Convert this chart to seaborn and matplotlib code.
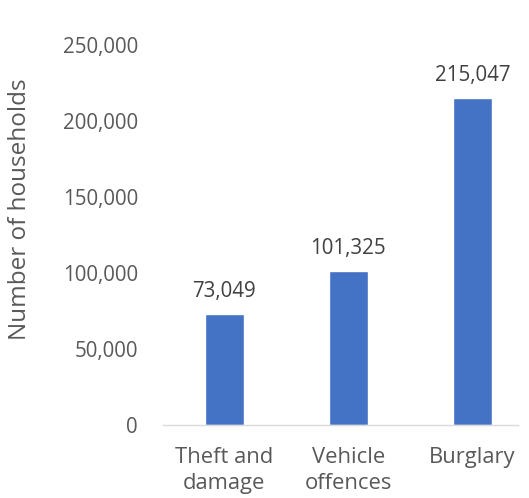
import matplotlib
matplotlib.use("Agg")
import matplotlib.pyplot as plt
import seaborn as sns
import pandas as pd
from matplotlib.ticker import FuncFormatter

# --- Data ---
categories = ["Theft and\ndamage", "Vehicle\noffences", "Burglary"]
households = [73049, 101325, 215047]

df = pd.DataFrame({"Category": categories, "Households": households})

sns.set_theme(style="white")
plt.rcParams["font.family"] = ["Open Sans", "DejaVu Sans"]
text_color = "#595959"
bar_color = "#4472C4"
fs = 14.8

fig = plt.figure(figsize=(5.29, 4.98), dpi=100)
ax = fig.add_axes([0.308, 0.1466, 0.671, 0.763])

sns.barplot(data=df, x="Category", y="Households", color=bar_color,
            width=0.315, saturation=1, ax=ax)

ax.set_ylim(0, 250000)
ax.set_xlim(-0.496, 2.367)
ax.set_yticks(range(0, 250001, 50000))
ax.yaxis.set_major_formatter(FuncFormatter(lambda v, p: f"{int(v):,}"))

# value labels above the bars
for i, v in enumerate(households):
    ax.annotate(f"{v:,}", (i, v), xytext=(0, 12), textcoords="offset points",
                ha="center", va="baseline", fontsize=fs, color="#404040")

ax.set_xlabel("")
ax.set_ylabel("")
fig.text(20 / 529, 1 - 209 / 498, "Number of households", rotation=90,
         ha="center", va="center", fontsize=17.5, color=text_color)
ax.tick_params(axis="y", length=0, pad=18, labelsize=fs, labelcolor=text_color)
ax.tick_params(axis="x", length=0, pad=16, labelsize=15.8, labelcolor=text_color)
for lbl in ax.get_xticklabels():
    lbl.set_linespacing(1.3)

for side in ["top", "right", "left"]:
    ax.spines[side].set_visible(False)
ax.spines["bottom"].set_color("#D9D9D9")
ax.spines["bottom"].set_linewidth(1)

fig.savefig("out.png", dpi=100)
